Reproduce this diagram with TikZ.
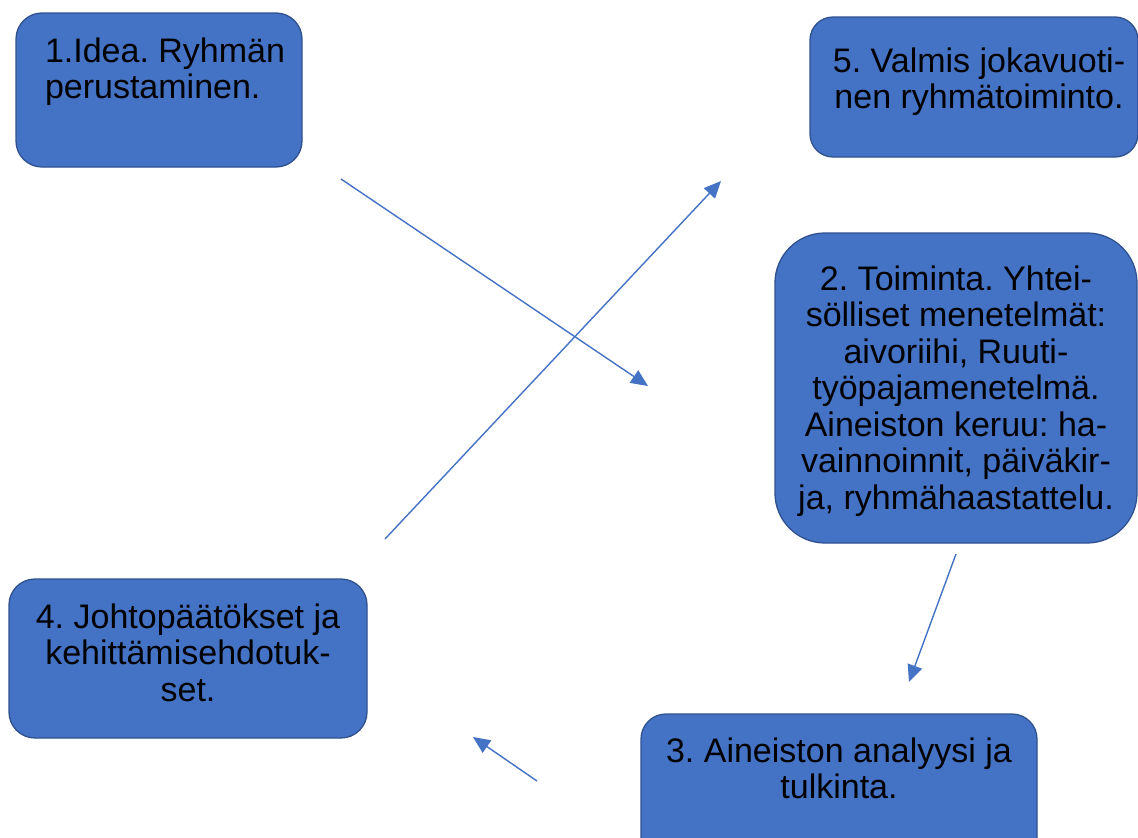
\documentclass[tikz,border=0pt]{standalone}
\usepackage{fontspec}
\setmainfont{Liberation Sans}
\usetikzlibrary{arrows.meta}
\definecolor{boxfill}{HTML}{4472C4}
\definecolor{boxline}{HTML}{2F528F}
\definecolor{arrowcol}{HTML}{4472C4}
\frenchspacing
\tikzset{
  stepbox/.style={draw=boxline, fill=boxfill, line width=1.3pt, inner sep=0pt,
    outer sep=0pt, anchor=north west, text=black,
    font=\fontsize{34}{36.5}\selectfont},
  conn/.style={draw=arrowcol, line width=1.4pt, -{Triangle[length=17pt,width=15pt]}}
}
\begin{document}
\begin{tikzpicture}[x=1pt,y=-1pt]
\useasboundingbox (0,0) rectangle (1138,838);
\clip (0,0) rectangle (1138,838);
\fill[white] (0,0) rectangle (1138,838);

\node[stepbox, rounded corners=26pt] (b1) at (16,13)
  {\parbox[c][154pt][t]{286pt}{\frenchspacing\raggedright\leftskip=29pt\rule{0pt}{49pt}1.Idea. Ryhmän\\perustaminen.}};

\node[stepbox, rounded corners=23pt] (b5) at (810,17)
  {\parbox[c][140pt][t]{328pt}{\frenchspacing\centering\rule{0pt}{55pt}\hspace*{10pt}5. Valmis jokavuoti-\\\hspace*{10pt}nen ryhmätoiminto.}};

\node[stepbox, rounded corners=50pt] (b2) at (775,233)
  {\parbox[c][310pt][t]{362pt}{\frenchspacing\centering\rule{0pt}{57pt}2. Toiminta. Yhtei-\\sölliset menetelmät:\\aivoriihi, Ruuti-\\työpajamenetelmä.\\Aineiston keruu: ha-\\vainnoinnit, päiväkir-\\ja, ryhmähaastattelu.}};

\node[stepbox, rounded corners=25pt] (b3) at (641,714)
  {\parbox[c][150pt][t]{396pt}{\frenchspacing\centering\rule{0pt}{48pt}3. Aineiston analyysi ja\\tulkinta.}};

\node[stepbox, rounded corners=26pt] (b4) at (9,579)
  {\parbox[c][159pt][t]{358pt}{\frenchspacing\centering\rule{0pt}{49pt}4. Johtopäätökset ja\\kehittämisehdotuk-\\set.}};

\coordinate (a1s) at (341,179);
\coordinate (a1e) at (648,386);
\coordinate (a2s) at (385,539);
\coordinate (a2e) at (721,181);
\coordinate (a3s) at (956,554);
\coordinate (a3e) at (909,682);
\coordinate (a4s) at (537,781);
\coordinate (a4e) at (473,737);

\draw[conn] (a1s) -- (a1e);
\draw[conn] (a2s) -- (a2e);
\draw[conn] (a3s) -- (a3e);
\draw[conn] (a4s) -- (a4e);
\end{tikzpicture}
\end{document}
